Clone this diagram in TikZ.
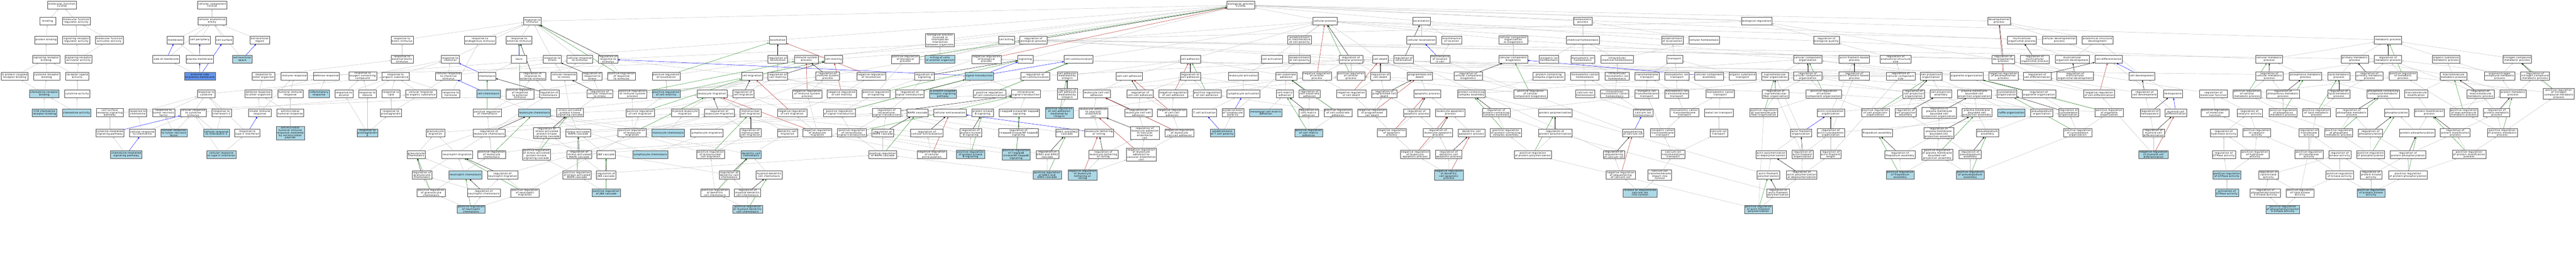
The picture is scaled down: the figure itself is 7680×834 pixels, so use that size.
\documentclass[tikz,border=0pt]{standalone}
\usepackage{fontspec}
\newfontfamily\gofont{DejaVu Sans}[LetterSpace=8.5]
\usetikzlibrary{arrows.meta,backgrounds}
\definecolor{lb}{RGB}{173,216,230}
\definecolor{cfb}{RGB}{100,149,237}
\definecolor{eg}{RGB}{192,192,192}
\definecolor{egreen}{RGB}{34,139,34}
\definecolor{ered}{RGB}{178,34,34}
\tikzset{
  gobox/.style={draw=black!70, line width=0.8pt, fill=white, align=center,
    font={\gofont\fontsize{7.3pt}{7.35pt}\selectfont},
    inner xsep=2.5pt, inner ysep=1.4pt, minimum height=23.7pt, minimum width=47pt},
  isa/.style={draw=eg, line width=0.7pt, -{Triangle[length=5pt,width=4pt]}},
  partof/.style={draw=blue, line width=0.7pt, -{Triangle[length=5pt,width=4pt]}},
  regs/.style={draw=black, line width=0.7pt, -{Triangle[length=5pt,width=4pt]}},
  posregs/.style={draw=egreen, line width=0.7pt, -{Triangle[length=5pt,width=4pt]}},
  negregs/.style={draw=ered, line width=0.7pt, -{Triangle[length=5pt,width=4pt]}}
}
\newcommand\gonode[4]{\node[gobox] (#1) at (#2,#3) {#4};}
\newcommand\golit[4]{\node[gobox,fill=lb] (#1) at (#2,#3) {#4};}
\begin{document}
\begin{tikzpicture}[x=1pt,y=-1pt]
\useasboundingbox (0,0) rectangle (7680,834);
% ---------- scope 0 ----------
\begin{scope}[xshift=0pt,x=0.408163pt,y=-0.408163pt]
\gonode{mf}{452}{37}{molecular\_function\\Ccl21b}
\gonode{binding}{348}{154}{binding}
\gonode{mfreg}{557}{154}{molecular function\\regulator activity}
\gonode{protbind}{336}{292}{protein binding}
\gonode{srra}{557}{292}{signaling receptor\\regulator activity}
\gonode{mfact}{798}{292}{molecular function\\activator activity}
\gonode{srb}{337}{432}{signaling receptor\\binding}
\gonode{sraa}{573}{432}{signaling receptor\\activator activity}
\gonode{gpcrb}{107}{555}{G protein-coupled\\receptor binding}
\gonode{crb}{341}{555}{cytokine receptor\\binding}
\gonode{rla}{564}{555}{receptor ligand\\activity}
\golit{chrb}{323}{685}{chemokine receptor\\binding}
\gonode{cka}{564}{685}{cytokine activity}
\golit{ccrb}{324}{823}{CCR chemokine\\receptor binding}
\golit{chka}{559}{823}{chemokine activity}
\gonode{cc}{1549}{37}{cellular\_component\\Ccl21b}
\gonode{cae}{1549}{154}{cellular anatomical\\entity}
\gonode{membrane}{1281}{292}{membrane}
\gonode{cellper}{1459}{292}{cell periphery}
\gonode{cellsurf}{1638}{292}{cell surface}
\gonode{extreg}{1897}{292}{extracellular\\region}
\gonode{sidemem}{1214}{432}{side of membrane}
\gonode{pm}{1458}{432}{plasma membrane}
\golit{extspace}{1770}{432}{extracellular\\space}
\node[gobox,fill=cfb] (extside) at (1460,555) {external side\\of plasma membrane};
\gonode{rcyt}{1506}{685}{response to\\cytokine}
\gonode{cssp}{802}{823}{cell surface\\receptor signaling\\pathway}
\gonode{rchem}{1006}{823}{response to\\chemokine}
\gonode{rtnf}{1195}{823}{response to\\tumor necrosis\\factor}
\gonode{crcs}{1411}{823}{cellular response\\to cytokine\\stimulus}
\gonode{ril1}{1618}{823}{response to\\interleukin-1}
\gonode{cmsp}{802}{970}{cytokine-mediated\\signaling pathway}
\gonode{crchem}{1040}{970}{cellular response\\to chemokine}
\golit{crtnf}{1270}{970}{cellular response\\to tumor necrosis\\factor}
\golit{cril1}{1581}{970}{cellular response\\to interleukin-1}
\golit{chmsp}{922}{1128}{chemokine-mediated\\signaling pathway}
\golit{crifng}{1617}{1128}{cellular response\\to type II interferon}
\end{scope}
% ---------- scope 1 ----------
\begin{scope}[xshift=640pt,x=0.408163pt,y=-0.408163pt]
\gonode{rifng}{238}{970}{response to\\type II interferon}
\gonode{rbio}{1369}{292}{response to\\biotic stimulus}
\gonode{rebio}{1369}{432}{response to\\external biotic\\stimulus}
\gonode{roo}{356}{555}{response to\\other organism}
\gonode{immresp}{580}{555}{immune response}
\gonode{defresp}{815}{555}{defense response}
\gonode{rocc}{1081}{555}{response to\\oxygen-containing\\compound}
\gonode{ros}{1321}{555}{response to\\organic substance}
\gonode{droo}{318}{685}{defense response\\to other organism}
\gonode{humimm}{552}{685}{humoral immune\\response}
\golit{inflam}{762}{685}{inflammatory\\response}
\gonode{ralc}{944}{685}{response to\\alcohol}
\gonode{rket}{1116}{685}{response to\\ketone}
\gonode{rlip}{1288}{685}{response to\\lipid}
\gonode{cros}{1506}{685}{cellular response\\to organic substance}
\gonode{innate}{329}{823}{innate immune\\response}
\gonode{amhr}{552}{823}{antimicrobial\\humoral response}
\gonode{rpg}{1288}{823}{response to\\prostaglandin}
\golit{amhimp}{552}{971}{antimicrobial\\humoral immune\\response mediated\\by antimicrobial\\peptide}
\golit{rpge}{1116}{970}{response to\\prostaglandin\\E}
\gonode{granmig}{1612}{970}{granulocyte\\migration}
\gonode{granchem}{1472}{1128}{granulocyte\\chemotaxis}
\gonode{reggranchem}{1514}{1277}{regulation of\\granulocyte\\chemotaxis}
\gonode{posreggranchem}{1581}{1407}{positive regulation\\of granulocyte\\chemotaxis}
\end{scope}
% ---------- scope 2 ----------
\begin{scope}[xshift=1280pt,x=0.408163pt,y=-0.408163pt]
\gonode{rstim}{752}{154}{response to\\stimulus}
\gonode{rendo}{370}{292}{response to\\endogenous stimulus}
\gonode{rext}{655}{292}{response to\\external stimulus}
\gonode{rchemical}{152}{432}{response to\\chemical}
\gonode{taxis}{655}{432}{taxis}
\gonode{rstress}{898}{432}{response to\\stress}
\gonode{crstim}{1099}{432}{cellular response\\to stimulus}
\gonode{regrstim}{1305}{432}{regulation of\\response to\\stimulus}
\gonode{crchemstim}{140}{555}{cellular response\\to chemical\\stimulus}
\gonode{chemotaxis}{421}{555}{chemotaxis}
\gonode{regrext}{754}{555}{regulation of\\response to\\external stimulus}
\gonode{crstress}{983}{555}{cellular response\\to stress}
\gonode{regrstress}{1190}{555}{regulation of\\response to\\stress}
\gonode{posregrstim}{1404}{555}{positive regulation\\of response\\to stimulus}
\gonode{rhorm}{157}{685}{response to\\hormone}
\golit{cellchem}{432}{685}{cell chemotaxis}
\gonode{posregrext}{662}{685}{positive regulation\\of response\\to external\\stimulus}
\gonode{regchemotaxis}{876}{685}{regulation of\\chemotaxis}
\gonode{regcrstress}{1245}{685}{regulation of\\cellular response\\to stress}
\gonode{posregimm}{1484}{685}{positive regulation\\of immune system\\process}
\gonode{posregchemotaxis}{423}{823}{positive regulation\\of chemotaxis}
\golit{leukchem}{768}{823}{leukocyte chemotaxis}
\gonode{sapk}{1028}{823}{stress-activated\\protein kinase\\signaling cascade}
\gonode{posregcellmig}{1540}{823}{positive regulation\\of cell migration}
\gonode{regleukchem}{436}{970}{regulation of\\leukocyte chemotaxis}
\gonode{regsapk}{858}{970}{regulation of\\stress-activated\\protein kinase\\signaling cascade}
\gonode{samapk}{1087}{970}{stress-activated\\MAPK cascade}
\gonode{posregleukmig}{1481}{970}{positive regulation\\of leukocyte\\migration}
\gonode{neutmig}{203}{1128}{neutrophil migration}
\gonode{posregleukchem}{455}{1128}{positive regulation\\of leukocyte\\chemotaxis}
\gonode{posregsapk}{782}{1128}{positive regulation\\of stress-activated\\protein kinase\\signaling cascade}
\gonode{regsamapk}{1095}{1128}{regulation of\\stress-activated\\MAPK cascade}
\gonode{jnk}{1291}{1128}{JNK cascade}
\golit{lymphchem}{1614}{1128}{lymphocyte chemotaxis}
\golit{neutchem}{263}{1277}{neutrophil chemotaxis}
\gonode{regneutmig}{535}{1277}{regulation of\\neutrophil migration}
\gonode{posregsamapk}{1078}{1277}{positive regulation\\of stress-activated\\MAPK cascade}
\gonode{regjnk}{1291}{1277}{regulation of\\JNK cascade}
\gonode{regneutchem}{397}{1407}{regulation of\\neutrophil chemotaxis}
\gonode{posregneutmig}{698}{1407}{positive regulation\\of neutrophil\\migration}
\golit{posregjnk}{1292}{1407}{positive regulation\\of JNK cascade}
\golit{posregneutchem}{305}{1527}{positive regulation\\of neutrophil\\chemotaxis}
\end{scope}
% ---------- scope 3 ----------
\begin{scope}[xshift=1920pt,x=0.408163pt,y=-0.408163pt]
\gonode{locomotion}{977}{292}{locomotion}
\gonode{reglocomotion}{977}{432}{regulation of\\locomotion}
\gonode{immsys}{1185}{432}{immune system\\process}
\gonode{cellmot}{1384}{432}{cell motility}
\gonode{posreglocomotion}{162}{555}{positive regulation\\of locomotion}
\gonode{cellmig}{788}{555}{cell migration}
\gonode{regcellmot}{977}{555}{regulation of\\cell motility}
\gonode{regimm}{1342}{555}{regulation of\\immune system\\process}
\gonode{neglocomotion}{1660}{555}{negative regulation\\of locomotion}
\golit{posregcellmot}{162}{685}{positive regulation\\of cell motility}
\gonode{leukmig}{497}{685}{leukocyte migration}
\gonode{regcellmig}{725}{685}{regulation of\\cell migration}
\gonode{negimm}{1192}{685}{negative regulation\\of immune system\\process}
\gonode{negcellmot}{1445}{685}{negative regulation\\of cell motility}
\gonode{myelmig}{299}{823}{myeloid leukocyte\\migration}
\gonode{regleukmig}{550}{823}{regulation of\\leukocyte migration}
\gonode{mononucmig}{778}{823}{mononuclear\\cell migration}
\gonode{negcellmig}{1082}{823}{negative regulation\\of cell migration}
\gonode{posregsigtrans}{1427}{823}{positive regulation\\of signal transduction}
\golit{monochem}{177}{970}{monocyte chemotaxis}
\gonode{lymphmig}{458}{970}{lymphocyte migration}
\gonode{regmononucmig}{778}{970}{regulation of\\mononuclear\\cell migration}
\gonode{dcmig}{1048}{970}{dendritic cell\\migration}
\gonode{negleukmig}{1266}{970}{negative regulation\\of leukocyte\\migration}
\gonode{posregintrasig}{1518}{970}{positive regulation\\of intracellular\\signal transduction}
\gonode{posregmononucmig}{486}{1128}{positive regulation\\of mononuclear\\cell migration}
\golit{dcchem}{782}{1128}{dendritic cell\\chemotaxis}
\gonode{regdcchem}{623}{1277}{regulation of\\dendritic cell\\chemotaxis}
\gonode{mdcchem}{913}{1277}{myeloid dendritic\\cell chemotaxis}
\gonode{posregdcchem}{518}{1407}{positive regulation\\of dendritic\\cell chemotaxis}
\gonode{regmdcchem}{756}{1407}{regulation of\\myeloid dendritic\\cell chemotaxis}
\golit{posregmdcchem}{757}{1527}{positive regulation\\of myeloid dendritic\\cell chemotaxis}
\end{scope}
% ---------- scope 4 ----------
\begin{scope}[xshift=2560pt,x=0.408163pt,y=-0.408163pt]
\gonode{bpinter}{594}{292}{biological process\\involved in\\interspecies\\interaction\\between organisms}
\gonode{cellkill}{1079}{292}{cell killing}
\gonode{regbp}{1276}{292}{regulation of\\biological process}
\gonode{posregbp}{341}{432}{positive regulation\\of biological\\process}
\golit{killcells}{594}{432}{killing of cells\\of another organism}
\gonode{negregbp}{933}{432}{negative regulation\\of biological\\process}
\gonode{signaling}{1218}{432}{signaling}
\gonode{cellcomm}{1605}{432}{cell communication}
\gonode{regsignaling}{480}{555}{regulation of\\signaling}
\golit{sigtrans}{881}{555}{signal transduction}
\gonode{regcellcomm}{1289}{555}{regulation of\\cell communication}
\gonode{cadhint}{1523}{555}{cell adhesion\\mediated by\\integrin}
\gonode{posregsignaling}{126}{685}{positive regulation\\of signaling}
\gonode{regsigtrans}{373}{685}{regulation of\\signal transduction}
\golit{gpcrsp}{615}{685}{G protein-coupled\\receptor signaling\\pathway}
\gonode{posregcellcomm}{956}{685}{positive regulation\\of cell communication}
\gonode{intrasig}{1222}{685}{intracellular\\signal transduction}
\gonode{regcadhint}{1523}{685}{regulation of\\cell adhesion\\mediated by\\integrin}
\gonode{regintrasig}{203}{823}{regulation of\\intracellular\\signal transduction}
\gonode{mapk}{429}{823}{MAPK cascade}
\gonode{cellextra}{667}{823}{cellular extravasation}
\gonode{pkb}{905}{823}{protein kinase\\B signaling}
\gonode{ikb}{1173}{823}{I-kappaB kinase/NF-kappaB\\signaling}
\golit{posregcadhint}{1465}{823}{positive regulation\\of cell adhesion\\mediated by\\integrin}
\gonode{regmapk}{176}{970}{regulation of\\MAPK cascade}
\gonode{regcellextra}{498}{970}{regulation of\\cellular extravasation}
\gonode{regpkb}{818}{970}{regulation of\\protein kinase\\B signaling}
\gonode{regikb}{1167}{970}{regulation of\\I-kappaB kinase/NF-kappaB\\signaling}
\gonode{erk}{1522}{970}{ERK1 and ERK2\\cascade}
\gonode{posregmapk}{176}{1128}{positive regulation\\of MAPK cascade}
\gonode{negcellextra}{534}{1128}{negative regulation\\of cellular\\extravasation}
\golit{posregpkb}{817}{1128}{positive regulation\\of protein kinase\\B signaling}
\golit{posregikb}{1150}{1128}{positive regulation\\of I-kappaB\\kinase/NF-kappaB\\signaling}
\gonode{regerk}{1378}{1128}{regulation of\\ERK1 and ERK2\\cascade}
\golit{posregerk}{1377}{1277}{positive regulation\\of ERK1 and\\ERK2 cascade}
\golit{negleuktether}{1635}{1277}{negative regulation\\of leukocyte\\tethering or\\rolling}
\end{scope}
% ---------- scope 5 ----------
\begin{scope}[xshift=3200pt,x=0.408163pt,y=-0.408163pt]
\gonode{bp}{1223}{37}{biological\_process\\Ccl21b}
\gonode{celladh}{854}{432}{cell adhesion}
\gonode{cellact}{1450}{432}{cell activation}
\gonode{ccadh}{408}{555}{cell-cell adhesion}
\gonode{regcelladh}{854}{555}{regulation of\\cell adhesion}
\gonode{leukact}{1242}{555}{leukocyte activation}
\gonode{csubadh}{1555}{555}{cell-substrate\\adhesion}
\gonode{leukccadh}{170}{685}{leukocyte cell-cell\\adhesion}
\gonode{regccadh}{488}{685}{regulation of\\cell-cell adhesion}
\gonode{negcelladh}{730}{685}{negative regulation\\of cell adhesion}
\gonode{posregcelladh}{978}{685}{positive regulation\\of cell adhesion}
\gonode{lymphact}{1243}{685}{lymphocyte activation}
\gonode{cmadh}{1545}{685}{cell-matrix\\adhesion}
\gonode{leukadhvasc}{146}{823}{leukocyte adhesion\\to vascular\\endothelial\\cell}
\gonode{regleukccadh}{475}{823}{regulation of\\leukocyte cell-cell\\adhesion}
\gonode{negccadh}{721}{823}{negative regulation\\of cell-cell\\adhesion}
\gonode{tcellact}{958}{823}{T cell activation}
\gonode{estlymphpol}{1165}{823}{establishment\\of lymphocyte\\polarity}
\golit{mesang}{1405}{823}{mesangial cell-matrix\\adhesion}
\gonode{leuktether}{187}{970}{leukocyte tethering\\or rolling}
\gonode{regleukadhvasc}{522}{971}{regulation of\\leukocyte adhesion\\to vascular\\endothelial\\cell}
\gonode{negleukccadh}{775}{970}{negative regulation\\of leukocyte\\cell-cell adhesion}
\golit{esttcellpol}{1088}{970}{establishment\\of T cell polarity}
\gonode{regleuktether}{219}{1128}{regulation of\\leukocyte tethering\\or rolling}
\gonode{negleukadhvasc}{496}{1129}{negative regulation\\of leukocyte\\adhesion to\\vascular endothelial\\cell}
\end{scope}
% ---------- scope 6 ----------
\begin{scope}[xshift=3840pt,x=0.408163pt,y=-0.408163pt]
\gonode{cellproc}{270}{154}{cellular process}
\gonode{localization}{975}{154}{localization}
\gonode{estmaintpol}{84}{292}{establishment\\or maintenance\\of cell polarity}
\gonode{cellloc}{975}{292}{cellular localization}
\gonode{maintloc}{1195}{292}{maintenance\\of location}
\gonode{ccob}{1645}{292}{cellular component\\organization\\or biogenesis}
\gonode{estpol}{84}{432}{establishment\\of cell polarity}
\gonode{regcellproc}{460}{432}{regulation of\\cellular process}
\gonode{celldeath}{675}{432}{cell death}
\gonode{regloc}{845}{432}{regulation of\\localization}
\gonode{maintlocincell}{1110}{432}{maintenance\\of location\\in cell}
\gonode{ccbiog}{1645}{432}{cellular component\\biogenesis}
\gonode{negcellproc}{211}{555}{negative regulation\\of cellular\\process}
\gonode{posregcellproc}{460}{555}{positive regulation\\of cellular\\process}
\gonode{regcelldeath}{675}{555}{regulation of\\cell death}
\gonode{pcd}{962}{555}{programmed cell\\death}
\gonode{regccbiog}{1316}{555}{regulation of\\cellular component\\biogenesis}
\gonode{regcsubadh}{157}{685}{regulation of\\cell-substrate\\adhesion}
\gonode{negcelldeath}{462}{685}{negative regulation\\of cell death}
\gonode{regpcd}{703}{685}{regulation of\\programmed cell\\death}
\gonode{apop}{1016}{685}{apoptotic process}
\gonode{pcca}{1339}{685}{protein-containing\\complex assembly}
\gonode{regcmadh}{150}{823}{regulation of\\cell-matrix\\adhesion}
\gonode{posregcsubadh}{365}{823}{positive regulation\\of cell-substrate\\adhesion}
\gonode{negpcd}{614}{823}{negative regulation\\of programmed\\cell death}
\gonode{regapop}{940}{823}{regulation of\\apoptotic process}
\gonode{leukapop}{1185}{823}{leukocyte apoptotic\\process}
\gonode{regpcca}{1520}{823}{regulation of\\protein-containing\\complex assembly}
\golit{posregcmadh}{151}{970}{positive regulation\\of cell-matrix\\adhesion}
\gonode{negapop}{758}{970}{negative regulation\\of apoptotic\\process}
\gonode{regleukapop}{1095}{970}{regulation of\\leukocyte apoptotic\\process}
\gonode{dcapop}{1340}{970}{dendritic cell\\apoptotic process}
\gonode{posregpcca}{1591}{970}{positive regulation\\of protein-containing\\complex assembly}
\gonode{negleukapop}{928}{1128}{negative regulation\\of leukocyte\\apoptotic process}
\gonode{regdcapop}{1174}{1128}{regulation of\\dendritic cell\\apoptotic process}
\golit{negdcapop}{1175}{1277}{negative regulation\\of dendritic\\cell apoptotic\\process}
\end{scope}
% ---------- scope 7 ----------
\begin{scope}[xshift=4480pt,x=0.408163pt,y=-0.408163pt]
\gonode{homeo}{585}{154}{homeostatic\\process}
\gonode{chemhomeo}{585}{292}{chemical homeostasis}
\gonode{estloc}{1239}{292}{establishment\\of localization}
\gonode{cellhomeo}{1471}{292}{cellular homeostasis}
\gonode{inorghomeo}{338}{432}{inorganic ion\\homeostasis}
\gonode{monoionhomeo}{585}{432}{monoatomic ion\\homeostasis}
\gonode{intrachemhomeo}{836}{432}{intracellular\\chemical homeostasis}
\gonode{transport}{1256}{432}{transport}
\gonode{pcco}{336}{555}{protein-containing\\complex organization}
\gonode{monocathomeo}{600}{555}{monoatomic cation\\homeostasis}
\gonode{intramonoionhomeo}{836}{555}{intracellular\\monoatomic ion\\homeostasis}
\gonode{tmtransport}{1054}{555}{transmembrane\\transport}
\gonode{monoiontransport}{1273}{555}{monoatomic ion\\transport}
\gonode{ccassembly}{1508}{555}{cellular component\\assembly}
\gonode{posregccbiog}{203}{685}{positive regulation\\of cellular\\component biogenesis}
\gonode{cahomeo}{602}{685}{calcium ion\\homeostasis}
\gonode{intramonocathomeo}{818}{685}{intracellular\\monoatomic cation\\homeostasis}
\gonode{inorgiontm}{1052}{685}{inorganic ion\\transmembrane\\transport}
\gonode{monoiontm}{1271}{685}{monoatomic ion\\transmembrane\\transport}
\gonode{monocattransport}{1589}{685}{monoatomic cation\\transport}
\gonode{protpolym}{383}{823}{protein polymerization}
\gonode{intracahomeo}{1026}{823}{intracellular\\calcium ion\\homeostasis}
\gonode{monocattm}{1327}{823}{monoatomic cation\\transmembrane\\transport}
\gonode{metaliontransport}{1578}{823}{metal ion transport}
\gonode{regprotpolym}{383}{970}{regulation of\\protein polymerization}
\gonode{seqca}{952}{970}{sequestering\\of calcium ion}
\gonode{inorgcattm}{1168}{970}{inorganic cation\\transmembrane\\transport}
\gonode{catransport}{1578}{970}{calcium ion\\transport}
\gonode{posregprotpolym}{220}{1128}{positive regulation\\of protein polymerization}
\gonode{regseqca}{812}{1128}{regulation of\\sequestering\\of calcium ion}
\gonode{catm}{1245}{1128}{calcium ion\\transmembrane\\transport}
\gonode{negseqca}{862}{1277}{negative regulation\\of sequestering\\of calcium ion}
\gonode{catmimport}{1147}{1277}{calcium ion\\transmembrane\\import into\\cytosol}
\golit{releaseca}{1003}{1407}{release of sequestered\\calcium ion\\into cytosol}
\end{scope}
% ---------- scope 8 ----------
\begin{scope}[xshift=5120pt,x=0.408163pt,y=-0.408163pt]
\gonode{bioreg}{287}{154}{biological regulation}
\gonode{regbq}{796}{292}{regulation of\\biological quality}
\gonode{cco}{660}{432}{cellular component\\organization}
\gonode{afbp}{1000}{432}{actin filament-based\\process}
\gonode{regass}{1302}{432}{regulation of\\anatomical structure\\size}
\gonode{organictransport}{184}{555}{organic substance\\transport}
\gonode{supfib}{421}{555}{supramolecular\\fiber organization}
\gonode{regcco}{660}{555}{regulation of\\cellular component\\organization}
\gonode{regafbp}{1000}{555}{regulation of\\actin filament-based\\process}
\gonode{regccsize}{1339}{555}{regulation of\\cellular component\\size}
\gonode{cellprojorg}{1561}{555}{cell projection\\organization}
\gonode{regsupfib}{425}{685}{regulation of\\supramolecular\\fiber organization}
\gonode{posregcco}{777}{685}{positive regulation\\of cellular\\component organization}
\gonode{regcellprojorg}{1435}{685}{regulation of\\cell projection\\organization}
\gonode{cellprojasm}{1633}{685}{cell projection\\assembly}
\gonode{posregsupfib}{339}{823}{positive regulation\\of supramolecular\\fiber organization}
\gonode{actcyto}{828}{823}{actin cytoskeleton\\organization}
\gonode{posregcellprojorg}{1154}{823}{positive regulation\\of cell projection\\organization}
\gonode{regcellprojasm}{1375}{823}{regulation of\\cell projection\\assembly}
\gonode{regpmbcpo}{1620}{823}{regulation of\\plasma membrane\\bounded cell\\projection organization}
\gonode{afo}{611}{970}{actin filament\\organization}
\gonode{regactcyto}{828}{970}{regulation of\\actin cytoskeleton\\organization}
\gonode{filoasm}{1167}{970}{filopodium assembly}
\gonode{regpmbcpa}{1617}{970}{regulation of\\plasma membrane\\bounded cell\\projection assembly}
\gonode{actpoly}{392}{1128}{actin polymerization\\or depolymerization}
\gonode{regafo}{622}{1128}{regulation of\\actin filament\\organization}
\gonode{regaflen}{828}{1128}{regulation of\\actin filament\\length}
\gonode{regfilo}{1334}{1128}{regulation of\\filopodium assembly}
\gonode{posregpmbcpa}{1606}{1128}{positive regulation\\of plasma membrane\\bounded cell\\projection assembly}
\gonode{afpoly}{373}{1277}{actin filament\\polymerization}
\gonode{regactpoly}{616}{1277}{regulation of\\actin polymerization\\or depolymerization}
\golit{posregfilo}{1335}{1277}{positive regulation\\of filopodium\\assembly}
\gonode{regafpoly}{444}{1407}{regulation of\\actin filament\\polymerization}
\golit{posregafpoly}{300}{1527}{positive regulation\\of actin filament\\polymerization}
\end{scope}
% ---------- scope 9 ----------
\begin{scope}[xshift=5760pt,x=0.408163pt,y=-0.408163pt]
\gonode{devproc}{489}{154}{developmental\\process}
\gonode{multiorg}{657}{292}{multicellular\\organismal process}
\gonode{celldevproc}{929}{292}{cellular developmental\\process}
\gonode{asdev}{1208}{292}{anatomical structure\\development}
\gonode{regdevproc}{521}{432}{regulation of\\developmental\\process}
\gonode{regmultiorg}{751}{432}{regulation of\\multicellular\\organismal process}
\gonode{multidev}{1024}{432}{multicellular\\organism development}
\gonode{celldiff}{1289}{432}{cell differentiation}
\gonode{organelle}{253}{555}{organelle organization}
\gonode{negdevproc}{521}{555}{negative regulation\\of developmental\\process}
\gonode{regcelldiff}{768}{555}{regulation of\\cell differentiation}
\gonode{regmultidev}{1045}{555}{regulation of\\multicellular\\organismal development}
\gonode{celldev}{1532}{555}{cell development}
\gonode{pmbcpo}{309}{685}{plasma membrane\\bounded cell\\projection organization}
\gonode{cytoorg}{547}{685}{cytoskeleton\\organization}
\gonode{regorganelle}{781}{685}{regulation of\\organelle organization}
\gonode{negcelldiff}{1221}{685}{negative regulation\\of cell differentiation}
\gonode{regcelldev}{1553}{685}{regulation of\\cell development}
\gonode{pmbcpa}{328}{823}{plasma membrane\\bounded cell\\projection assembly}
\golit{ruffle}{580}{823}{ruffle organization}
\gonode{pseudoorg}{802}{823}{pseudopodium\\organization}
\gonode{regcyto}{998}{823}{regulation of\\cytoskeleton\\organization}
\gonode{posregorganelle}{1294}{823}{positive regulation\\of organelle\\organization}
\gonode{reghemo}{1591}{823}{regulation of\\hemopoiesis}
\gonode{pseudoasm}{405}{970}{pseudopodium\\assembly}
\gonode{posregcyto}{1064}{970}{positive regulation\\of cytoskeleton\\organization}
\gonode{regmyeldiff}{1618}{970}{regulation of\\myeloid cell\\differentiation}
\gonode{regpseudo}{279}{1128}{regulation of\\pseudopodium\\assembly}
\golit{negmyeldiff}{1618}{1128}{negative regulation\\of myeloid cell\\differentiation}
\golit{posregpseudo}{279}{1277}{positive regulation\\of pseudopodium\\assembly}
\end{scope}
% ---------- scope 10 ----------
\begin{scope}[xshift=6400pt,x=0.408163pt,y=-0.408163pt]
\gonode{cellmetab}{895}{432}{cellular metabolic\\process}
\gonode{primmetab}{1519}{432}{primary metabolic\\process}
\gonode{regcellmetab}{896}{555}{regulation of\\cellular metabolic\\process}
\gonode{phosmetab}{1160}{555}{phosphorus metabolic\\process}
\gonode{lipmetab}{1404}{555}{lipid metabolic\\process}
\gonode{regprimmetab}{1627}{555}{regulation of\\primary metabolic\\process}
\gonode{hemo}{192}{685}{hemopoiesis}
\gonode{regmf}{488}{685}{regulation of\\molecular function}
\gonode{posregcellmetab}{733}{685}{positive regulation\\of cellular\\metabolic process}
\gonode{regphosmetab}{996}{685}{regulation of\\phosphorus metabolic\\process}
\gonode{reglipmetab}{1404}{685}{regulation of\\lipid metabolic\\process}
\gonode{myeldiff}{213}{823}{myeloid cell\\differentiation}
\gonode{posregmf}{499}{823}{positive regulation\\of molecular\\function}
\gonode{regcatal}{751}{823}{regulation of\\catalytic activity}
\gonode{posregphosmetab}{996}{823}{positive regulation\\of phosphorus\\metabolic process}
\gonode{posreglipmetab}{1240}{823}{positive regulation\\of lipid metabolic\\process}
\gonode{regphosphate}{1498}{823}{regulation of\\phosphate metabolic\\process}
\gonode{reghydro}{563}{970}{regulation of\\hydrolase activity}
\gonode{posregcatal}{804}{970}{positive regulation\\of catalytic\\activity}
\gonode{regtransf}{1185}{970}{regulation of\\transferase\\activity}
\gonode{posregphosphate}{1403}{970}{positive regulation\\of phosphate\\metabolic process}
\gonode{regphosphorylation}{1634}{970}{regulation of\\phosphorylation}
\gonode{reggtpase}{563}{1128}{regulation of\\GTPase activity}
\gonode{posreghydro}{790}{1128}{positive regulation\\of hydrolase\\activity}
\gonode{posregtransf}{1185}{1128}{positive regulation\\of transferase\\activity}
\gonode{regkinase}{1410}{1128}{regulation of\\kinase activity}
\gonode{posregphosphorylation}{1635}{1128}{positive regulation\\of phosphorylation}
\golit{posreggtpase}{586}{1277}{positive regulation\\of GTPase activity}
\gonode{reglipkin}{889}{1277}{regulation of\\lipid kinase\\activity}
\gonode{posregkinase}{1410}{1277}{positive regulation\\of kinase activity}
\gonode{regprotkin}{1639}{1277}{regulation of\\protein kinase\\activity}
\golit{actgtpase}{586}{1407}{activation of\\GTPase activity}
\gonode{regpi3k}{867}{1407}{regulation of\\phosphatidylinositol\\3-kinase activity}
\gonode{posreglipkin}{1120}{1407}{positive regulation\\of lipid kinase\\activity}
\golit{posregprotkin}{1639}{1407}{positive regulation\\of protein kinase\\activity}
\golit{posregpi3k}{994}{1527}{positive regulation\\of phosphatidylinositol\\3-kinase activity}
\end{scope}
% ---------- scope 11 ----------
\begin{scope}[xshift=7040pt,x=0.408163pt,y=-0.408163pt]
\gonode{metab}{194}{292}{metabolic process}
\gonode{regmetab}{194}{432}{regulation of\\metabolic process}
\gonode{osmetab}{619}{432}{organic substance\\metabolic process}
\gonode{ncmetab}{1138}{432}{nitrogen compound\\metabolic process}
\gonode{posregmetab}{304}{555}{positive regulation\\of metabolic\\process}
\gonode{macromet}{673}{555}{macromolecule\\metabolic process}
\gonode{oncmetab}{1010}{555}{organonitrogen\\compound metabolic\\process}
\gonode{regncmetab}{1269}{555}{regulation of\\nitrogen compound\\metabolic process}
\gonode{phoscomp}{158}{685}{phosphate-containing\\compound metabolic\\process}
\gonode{macromod}{400}{685}{macromolecule\\modification}
\gonode{regmacromet}{870}{685}{regulation of\\macromolecule\\metabolic process}
\gonode{protmet}{1108}{685}{protein metabolic\\process}
\gonode{posregncmetab}{1442}{685}{positive regulation\\of nitrogen\\compound metabolic\\process}
\gonode{phosphorylation}{257}{823}{phosphorylation}
\gonode{protmod}{495}{823}{protein modification\\process}
\gonode{posregmacromet}{748}{823}{positive regulation\\of macromolecule\\metabolic process}
\gonode{regprotmet}{988}{823}{regulation of\\protein metabolic\\process}
\gonode{protphos}{407}{970}{protein phosphorylation}
\gonode{regprotmod}{686}{970}{regulation of\\protein modification\\process}
\gonode{posregprotmet}{1029}{970}{positive regulation\\of protein metabolic\\process}
\gonode{regprotphos}{340}{1128}{regulation of\\protein phosphorylation}
\gonode{posregprotmod}{787}{1128}{positive regulation\\of protein modification\\process}
\gonode{posregprotphos}{340}{1277}{positive regulation\\of protein phosphorylation}
\end{scope}
% ================= edges =================
\begin{pgfonlayer}{background}
\fill[white] (0,0) rectangle (7680,834);
\foreach \a/\b in {binding/mf, mfreg/mf, protbind/binding, srra/mfreg, mfact/mfreg, srb/protbind, sraa/srra, sraa/mfact, gpcrb/srb, crb/srb, rla/srb, rla/sraa, chrb/gpcrb, chrb/crb, cka/rla, ccrb/chrb, chka/chrb, chka/cka,
cae/cc, membrane/cae, cellper/cae, cellsurf/cae, extreg/cae, sidemem/cae, pm/membrane, extspace/cae, extside/sidemem,
cssp/sigtrans, rchem/rcyt, rtnf/rcyt, crcs/rcyt, crcs/cros, ril1/rcyt, cmsp/cssp, crchem/rchem, crchem/crcs, crtnf/rtnf, crtnf/crcs, cril1/crcs, cril1/ril1, chmsp/cmsp, crifng/crcs, crifng/rifng, rifng/rcyt, rcyt/ros,
roo/rebio, droo/roo, droo/defresp, humimm/immresp, inflam/defresp, ralc/rocc, ralc/ros, rket/rocc, rket/ros, rlip/ros, cros/ros, cros/crchemstim, innate/droo, innate/immresp, amhr/humimm, amhr/droo, rpg/rlip, rpg/cros, amhimp/amhr, rpge/ralc, rpge/rket, rpge/rpg, rebio/rbio, rbio/rstim, immresp/immsys, defresp/rstress, rocc/rchemical, ros/rchemical,
granmig/myelmig, granchem/granmig, granchem/leukchem, reggranchem/regleukchem, posreggranchem/reggranchem, posreggranchem/posregleukchem,
rstim/bp, rendo/rstim, rext/rstim, rchemical/rstim, rstress/rstim, crstim/rstim, crchemstim/rchemical, crchemstim/crstim, taxis/locomotion, chemotaxis/taxis, cellchem/chemotaxis, rhorm/rendo, rhorm/ros, regrstim/regbp, regrext/regrstim, regchemotaxis/regrext, posregrext/regrext, posregrext/posregrstim, posregchemotaxis/regchemotaxis, posregchemotaxis/posregrext, crstress/rstress, crstress/crstim, regrstress/regrstim, regcrstress/regrstress, posregrstim/regrstim, leukchem/cellchem, leukchem/leukmig, regleukchem/regchemotaxis, regleukchem/regleukmig, posregleukchem/regleukchem, posregleukchem/posregchemotaxis, posregleukchem/posregleukmig, sapk/crstress, sapk/intrasig, regsapk/regcrstress, regsapk/regintrasig, posregsapk/regsapk, posregsapk/posregintrasig, samapk/sapk, samapk/mapk, regsamapk/regsapk, regsamapk/regmapk, posregsamapk/regsamapk, posregsamapk/posregsapk, posregsamapk/posregmapk, jnk/samapk, regjnk/regsamapk, posregjnk/regjnk, posregjnk/posregsamapk, neutmig/granmig, neutchem/neutmig, neutchem/granchem, regneutmig/regleukmig, regneutchem/regneutmig, regneutchem/reggranchem, posregneutmig/regneutmig, posregneutmig/posregleukmig, posregneutchem/regneutchem, posregneutchem/posregneutmig, posregneutchem/posreggranchem, posregimm/regimm, lymphchem/leukchem, lymphchem/lymphmig,
locomotion/bp, reglocomotion/regbp, posreglocomotion/reglocomotion, neglocomotion/reglocomotion, immsys/bp, cellmot/cellproc, cellmig/cellmot, regcellmot/reglocomotion, posregcellmot/posreglocomotion, posregcellmot/regcellmot, negcellmot/regcellmot, negcellmot/neglocomotion, regimm/regbp, negimm/regimm, leukmig/cellmig, leukmig/immsys, regcellmig/regcellmot, posregcellmig/regcellmig, posregcellmig/posregcellmot, negcellmig/regcellmig, negcellmig/negcellmot, myelmig/leukmig, regleukmig/regcellmig, regleukmig/regimm, mononucmig/leukmig, negleukmig/regleukmig, negleukmig/negcellmig, negleukmig/negimm, posregleukmig/regleukmig, posregleukmig/posregcellmig, posregleukmig/posregimm, monochem/myelmig, monochem/leukchem, lymphmig/mononucmig, regmononucmig/regleukmig, posregmononucmig/regmononucmig, posregmononucmig/posregleukmig, dcmig/leukmig, dcchem/dcmig, dcchem/leukchem, regdcchem/regleukchem, mdcchem/dcchem, posregdcchem/regdcchem, posregdcchem/posregmononucmig, regmdcchem/regdcchem, posregmdcchem/regmdcchem, posregmdcchem/posregdcchem, posregsigtrans/regsigtrans, posregsigtrans/posregsignaling, posregintrasig/posregsigtrans, posregintrasig/regintrasig,
bpinter/bp, cellkill/bp, killcells/bpinter, killcells/cellkill, regbp/bioreg, posregbp/regbp, negregbp/regbp, signaling/bp, cellcomm/cellproc, regsignaling/regbp, regcellcomm/regcellproc, posregsignaling/regsignaling, posregsignaling/posregbp, regsigtrans/regsignaling, regsigtrans/regcellcomm, regsigtrans/regrstim, gpcrsp/sigtrans, posregcellcomm/regcellcomm, posregcellcomm/posregcellproc, intrasig/sigtrans, regintrasig/regsigtrans, mapk/intrasig, pkb/intrasig, ikb/intrasig, cellextra/leukmig, regcellextra/regleukmig, regmapk/regintrasig, posregmapk/regmapk, posregmapk/posregintrasig, negcellextra/regcellextra, negcellextra/negleukmig, regpkb/regintrasig, posregpkb/regpkb, posregpkb/posregintrasig, regikb/regintrasig, posregikb/regikb, posregikb/posregintrasig, erk/mapk, regerk/regmapk, posregerk/regerk, posregerk/posregmapk, cadhint/celladh, regcadhint/regcelladh, posregcadhint/regcadhint, posregcadhint/posregcelladh,
celladh/cellproc, ccadh/celladh, regcelladh/regcellproc, negcelladh/regcelladh, negcelladh/negcellproc, posregcelladh/regcelladh, posregcelladh/posregcellproc, leukccadh/ccadh, regccadh/regcelladh, negccadh/regccadh, negccadh/negcelladh, leukadhvasc/leukccadh, regleukccadh/regccadh, negleukccadh/regleukccadh, negleukccadh/negccadh, leuktether/leukadhvasc, regleukadhvasc/regleukccadh, negleukadhvasc/regleukadhvasc, negleukadhvasc/negleukccadh, regleuktether/regleukadhvasc, negleuktether/regleuktether, negleuktether/negleukadhvasc, leukact/cellact, lymphact/leukact, tcellact/lymphact, estlymphpol/estpol, esttcellpol/estlymphpol, cellact/cellproc, csubadh/celladh, cmadh/csubadh, mesang/cmadh,
cellproc/bp, localization/bp, estmaintpol/cellproc, estpol/estmaintpol, regcellproc/regbp, negcellproc/regcellproc, posregcellproc/regcellproc, celldeath/cellproc, regcelldeath/regcellproc, negcelldeath/regcelldeath, negcelldeath/negcellproc, pcd/celldeath, regpcd/regcelldeath, negpcd/regpcd, negpcd/negcelldeath, apop/pcd, regapop/regpcd, negapop/regapop, negapop/negpcd, leukapop/apop, regleukapop/regapop, negleukapop/regleukapop, negleukapop/negapop, dcapop/leukapop, regdcapop/regleukapop, negdcapop/regdcapop, negdcapop/negleukapop, cellloc/localization, maintloc/localization, maintlocincell/maintloc, regloc/regbp, regcsubadh/regcelladh, regcmadh/regcsubadh, posregcsubadh/regcsubadh, posregcsubadh/posregcelladh, posregcmadh/regcmadh, posregcmadh/posregcsubadh, regccbiog/regcellproc, pcca/pcco, pcca/ccassembly, regpcca/regcco, posregpcca/regpcca, ccbiog/ccob, ccob/cellproc,
homeo/bp, chemhomeo/homeo, cellhomeo/homeo, inorghomeo/chemhomeo, monoionhomeo/chemhomeo, intrachemhomeo/chemhomeo, intrachemhomeo/cellhomeo, estloc/localization, transport/estloc, monocathomeo/monoionhomeo, intramonoionhomeo/monoionhomeo, intramonoionhomeo/intrachemhomeo, tmtransport/transport, monoiontransport/transport, pcco/cco, posregccbiog/regccbiog, posregccbiog/posregcellproc, cahomeo/monocathomeo, intramonocathomeo/monocathomeo, intramonocathomeo/intramonoionhomeo, inorgiontm/tmtransport, monoiontm/tmtransport, monoiontm/monoiontransport, monocattransport/monoiontransport, protpolym/pcca, intracahomeo/cahomeo, intracahomeo/intramonocathomeo, monocattm/monoiontm, monocattm/monocattransport, metaliontransport/monocattransport, regprotpolym/regpcca, seqca/maintlocincell, inorgcattm/inorgiontm, inorgcattm/monocattm, catransport/metaliontransport, posregprotpolym/regprotpolym, posregprotpolym/posregpcca, regseqca/regloc, catm/inorgcattm, catm/catransport, negseqca/regseqca, catmimport/catm, releaseca/negseqca, releaseca/catmimport,
bioreg/bp, regbq/bioreg, cco/ccob, afbp/cellproc, regass/regbq, supfib/cco, regcco/regcellproc, posregcco/regcco, posregcco/posregcellproc, regafbp/regcellproc, regccsize/regass, regccsize/regcco, cellprojorg/cco, regsupfib/regcco, posregsupfib/regsupfib, posregsupfib/posregcco, actcyto/afbp, actcyto/cytoorg, regcellprojorg/regcco, posregcellprojorg/regcellprojorg, posregcellprojorg/posregcco, regcellprojasm/regcellprojorg, afo/supfib, regactcyto/regcyto, regactcyto/regafbp, filoasm/pmbcpa, actpoly/afo, regafo/regactcyto, regafo/regsupfib, regaflen/regactcyto, regaflen/regccsize, regfilo/regpmbcpa, posregfilo/regfilo, posregfilo/posregpmbcpa, afpoly/actpoly, afpoly/protpolym, regactpoly/regafo, regactpoly/regaflen, regafpoly/regactpoly, regafpoly/regprotpolym, posregafpoly/regafpoly, posregafpoly/posregsupfib, posregafpoly/posregprotpolym, organictransport/transport, cellprojasm/cellprojorg, cellprojasm/ccassembly,
devproc/bp, multiorg/bp, celldevproc/devproc, celldevproc/cellproc, asdev/devproc, regdevproc/regbp, negdevproc/regdevproc, negdevproc/negregbp, regmultiorg/regbp, multidev/multiorg, multidev/asdev, celldiff/celldevproc, regcelldiff/regdevproc, regcelldiff/regcellproc, regmultidev/regmultiorg, regmultidev/regdevproc, negcelldiff/regcelldiff, negcelldiff/negdevproc, celldev/asdev, regcelldev/regcelldiff, organelle/cco, pmbcpo/cellprojorg, cytoorg/organelle, regorganelle/regcco, regpmbcpo/regcellprojorg, pmbcpa/pmbcpo, pmbcpa/cellprojasm, ruffle/pmbcpo, pseudoorg/pmbcpo, regcyto/regorganelle, posregorganelle/regorganelle, posregorganelle/posregcco, regpmbcpa/regpmbcpo, regpmbcpa/regcellprojasm, pseudoasm/pmbcpa, pseudoasm/pseudoorg, posregcyto/regcyto, posregcyto/posregorganelle, posregpmbcpa/regpmbcpa, regpseudo/regpmbcpa, posregpseudo/regpseudo, posregpseudo/posregpmbcpa, posregpseudo/posregcyto,
cellmetab/metab, cellmetab/cellproc, primmetab/metab, hemo/celldev, reghemo/regcelldev, myeldiff/celldiff, regmyeldiff/reghemo, negmyeldiff/regmyeldiff, negmyeldiff/negcelldiff, regmf/bioreg, posregmf/regmf, regcatal/regmf, regcellmetab/regmetab, posregcellmetab/regcellmetab, posregcellmetab/posregmetab, phosmetab/cellmetab, regphosmetab/regcellmetab, posregphosmetab/regphosmetab, posregphosmetab/posregcellmetab, lipmetab/primmetab, reglipmetab/regprimmetab, posreglipmetab/reglipmetab, posreglipmetab/posregcellmetab, regphosphate/regphosmetab, reghydro/regcatal, posregcatal/regcatal, posregcatal/posregmf, regtransf/regcatal, posregtransf/regtransf, posregtransf/posregcatal, posregphosphate/regphosphate, posregphosphate/posregphosmetab, reggtpase/reghydro, posreghydro/reghydro, posreghydro/posregcatal, regkinase/regtransf, posregkinase/regkinase, posregkinase/posregtransf, posreggtpase/reggtpase, posreggtpase/posreghydro, actgtpase/posreggtpase, reglipkin/regkinase, regpi3k/reglipkin, posreglipkin/reglipkin, posreglipkin/posregkinase, posreglipkin/posreglipmetab, posregpi3k/regpi3k, posregpi3k/posreglipkin, regprotkin/regkinase, regprotkin/regprotphos, posregprotkin/regprotkin, posregprotkin/posregkinase, posregprotkin/posregprotphos,
metab/bp, regmetab/regbp, posregmetab/regmetab, posregmetab/posregbp, osmetab/metab, ncmetab/metab, macromet/osmetab, macromet/primmetab, oncmetab/osmetab, oncmetab/ncmetab, regncmetab/regmetab, posregncmetab/regncmetab, posregncmetab/posregmetab, regprimmetab/regmetab, phoscomp/phosmetab, macromod/macromet, regmacromet/regmetab, posregmacromet/regmacromet, posregmacromet/posregmetab, protmet/macromet, protmet/oncmetab, phosphorylation/phoscomp, protmod/macromod, protmod/protmet, regprotmet/regmacromet, regprotmet/regncmetab, protphos/phosphorylation, protphos/protmod, regphosphorylation/regphosphate, regprotmod/regprotmet, posregprotmet/regprotmet, posregprotmet/posregncmetab, posregprotmet/posregmacromet, regprotphos/regprotmod, regprotphos/regphosphorylation, posregphosphorylation/regphosphorylation, posregphosphorylation/posregphosphate, posregprotmod/regprotmod, posregprotmod/posregprotmet, posregprotphos/regprotphos, posregprotphos/posregprotmod, posregprotphos/posregphosphorylation}
  \draw[isa] (\a) -- (\b);
\foreach \a/\b in {sidemem/membrane, pm/cellper, extspace/extreg, extside/pm, extside/cellsurf, cmsp/crcs, chmsp/crchem, rifng/innate, taxis/rext, chemotaxis/rchemical, cellchem/crchemstim, sigtrans/regrstim, sigtrans/signaling, sigtrans/cellcomm, leuktether/cellextra, estlymphpol/lymphact, esttcellpol/tcellact, maintlocincell/cellloc, seqca/intracahomeo, ccassembly/ccbiog, afo/actcyto, celldev/celldiff, myeldiff/hemo}
  \draw[partof] (\a) -- (\b);
\foreach \a/\b in {regrstim/rstim, regrext/rext, regchemotaxis/chemotaxis, regrstress/rstress, regcrstress/crstress, regleukchem/leukchem, regsapk/sapk, regsamapk/samapk, regjnk/jnk, regneutmig/neutmig, regneutchem/neutchem, reggranchem/granchem, reglocomotion/locomotion, regcellmot/cellmot, regimm/immsys, regcellmig/cellmig, regleukmig/leukmig, regmononucmig/mononucmig, regdcchem/dcchem, regmdcchem/mdcchem, regbp/bp, regsignaling/signaling, regcellcomm/cellcomm, regsigtrans/sigtrans, regintrasig/intrasig, regmapk/mapk, regcellextra/cellextra, regpkb/pkb, regikb/ikb, regerk/erk, regcadhint/cadhint, regcelladh/celladh, regccadh/ccadh, regleukccadh/leukccadh, regleukadhvasc/leukadhvasc, regleuktether/leuktether, regcellproc/cellproc, regcelldeath/celldeath, regloc/localization, regpcd/pcd, regccbiog/ccbiog, regapop/apop, regpcca/pcca, regleukapop/leukapop, regdcapop/dcapop, regcsubadh/csubadh, regcmadh/cmadh, regprotpolym/protpolym, regseqca/seqca, regcco/cco, regafbp/afbp, regsupfib/supfib, regcellprojorg/cellprojorg, regcellprojasm/cellprojasm, regactcyto/actcyto, regafo/afo, regfilo/filoasm, regactpoly/actpoly, regafpoly/afpoly, regdevproc/devproc, regmultiorg/multiorg, regcelldiff/celldiff, regmultidev/multidev, regcelldev/celldev, regorganelle/organelle, regpmbcpo/pmbcpo, regpmbcpa/pmbcpa, regcyto/cytoorg, regpseudo/pseudoasm, reghemo/hemo, regmyeldiff/myeldiff, regcellmetab/cellmetab, regphosmetab/phosmetab, reglipmetab/lipmetab, regprimmetab/primmetab, regmetab/metab, regncmetab/ncmetab, regphosphate/phoscomp, regmacromet/macromet, regprotmet/protmet, regphosphorylation/phosphorylation, regprotmod/protmod, regprotphos/protphos}
  \draw[regs] (\a) -- (\b);
\foreach \a/\b in {posregrstim/rstim, posregrext/rext, posregchemotaxis/chemotaxis, posregleukchem/leukchem, posregsapk/sapk, posregsamapk/samapk, posregjnk/jnk, posregneutmig/neutmig, posregneutchem/neutchem, posreggranchem/granchem, posreglocomotion/locomotion, posregcellmot/cellmot, posregimm/immsys, posregcellmig/cellmig, posregleukmig/leukmig, posregmononucmig/mononucmig, posregdcchem/dcchem, posregmdcchem/mdcchem, posregbp/bp, posregsignaling/signaling, posregcellcomm/cellcomm, posregsigtrans/sigtrans, posregintrasig/intrasig, posregmapk/mapk, posregpkb/pkb, posregikb/ikb, posregerk/erk, posregcadhint/cadhint, posregcelladh/celladh, posregcellproc/cellproc, posregcsubadh/csubadh, posregcmadh/cmadh, posregccbiog/ccbiog, posregpcca/pcca, posregprotpolym/protpolym, posregcco/cco, posregsupfib/supfib, posregcellprojorg/cellprojorg, posregfilo/filoasm, posregafpoly/afpoly, posregorganelle/organelle, posregpmbcpa/pmbcpa, posregcyto/cytoorg, posregpseudo/pseudoasm, posregcellmetab/cellmetab, posregphosmetab/phosmetab, posreglipmetab/lipmetab, posregmetab/metab, posregncmetab/ncmetab, posregphosphate/phoscomp, posregmacromet/macromet, posregprotmet/protmet, posregphosphorylation/phosphorylation, posregprotmod/protmod, posregprotphos/protphos}
  \draw[posregs] (\a) -- (\b);
\foreach \a/\b in {neglocomotion/locomotion, negcellmot/cellmot, negimm/immsys, negcellmig/cellmig, negleukmig/leukmig, negregbp/bp, negcellextra/cellextra, negcelladh/celladh, negccadh/ccadh, negleukccadh/leukccadh, negleukadhvasc/leukadhvasc, negleuktether/leuktether, negcellproc/cellproc, negcelldeath/celldeath, negpcd/pcd, negapop/apop, negleukapop/leukapop, negdcapop/dcapop, negseqca/seqca, negdevproc/devproc, negcelldiff/celldiff, negmyeldiff/myeldiff}
  \draw[negregs] (\a) -- (\b);
\end{pgfonlayer}
\end{tikzpicture}
\end{document}
